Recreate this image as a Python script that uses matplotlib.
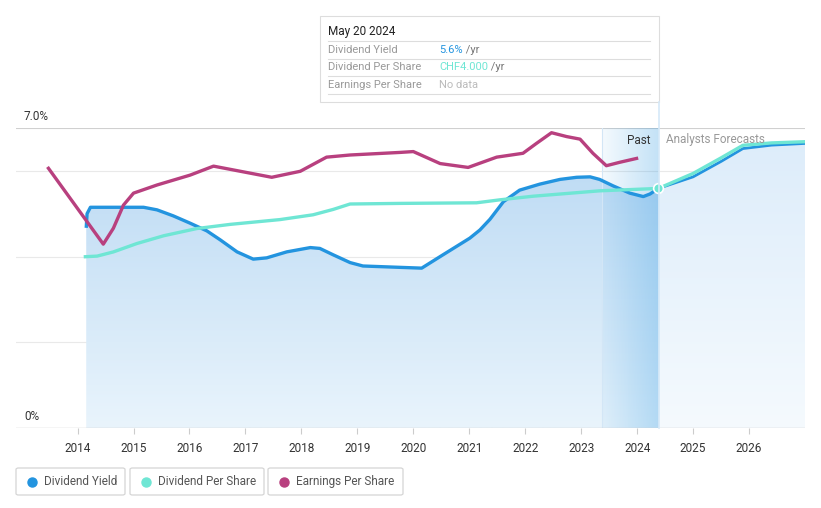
import matplotlib.pyplot as plt
import numpy as np
from matplotlib.patches import Rectangle, FancyBboxPatch, Polygon

plt.rcParams['font.family'] = ['Roboto', 'DejaVu Sans']

# dividend yield (%)
dy_x = [2014.155, 2014.17, 2014.23, 2015.18, 2015.42, 2015.71, 2016.01, 2016.31, 2016.55,
        2016.85, 2017.14, 2017.38, 2017.74, 2018.16, 2018.33, 2018.57, 2018.87, 2019.10,
        2020.15, 2020.48, 2021.01, 2021.19, 2021.37, 2021.61, 2021.90, 2022.26, 2022.62,
        2022.92, 2023.16, 2023.33, 2023.57, 2023.87, 2024.11, 2024.23, 2024.38]
dy_y = [4.67, 5.00, 5.15, 5.15, 5.09, 4.95, 4.78, 4.60, 4.39,
        4.11, 3.94, 3.97, 4.11, 4.21, 4.19, 4.04, 3.86, 3.78,
        3.73, 4.00, 4.43, 4.62, 4.87, 5.28, 5.55, 5.69, 5.80,
        5.85, 5.86, 5.80, 5.65, 5.48, 5.40, 5.46, 5.59]
dy_fx = [2024.38, 2025.0, 2025.50, 2025.89, 2026.40, 2027.0]
dy_fy = [5.59, 5.86, 6.22, 6.52, 6.60, 6.64]

# dividend per share (CHF)
dps_x = [2014.14, 2014.35, 2014.64, 2015.06, 2015.54, 2016.13, 2016.73, 2017.62, 2018.21,
         2018.57, 2018.87, 2019.76, 2021.13, 2021.55, 2022.14, 2023.33, 2024.38]
dps_y = [2.86, 2.87, 2.94, 3.08, 3.21, 3.33, 3.40, 3.48, 3.56,
         3.65, 3.74, 3.75, 3.76, 3.81, 3.87, 3.96, 4.00]
dps_fx = [2024.38, 2025.0, 2025.50, 2025.89, 2026.40, 2027.0]
dps_fy = [4.00, 4.25, 4.51, 4.72, 4.76, 4.78]

# earnings per share (drawn on the yield scale)
eps_x = [2013.48, 2014.46, 2014.64, 2014.82, 2015.0, 2015.42, 2016.01, 2016.43, 2016.91,
         2017.47, 2017.98, 2018.45, 2018.87, 2019.76, 2020.0, 2020.48, 2020.98, 2021.49,
         2021.96, 2022.20, 2022.47, 2022.74, 2022.98, 2023.21, 2023.45, 2023.69, 2023.99]
eps_y = [6.06, 4.29, 4.66, 5.20, 5.48, 5.67, 5.90, 6.11, 5.99,
         5.85, 5.99, 6.32, 6.37, 6.43, 6.45, 6.17, 6.08, 6.32,
         6.41, 6.64, 6.89, 6.80, 6.74, 6.41, 6.12, 6.20, 6.29]

years = list(range(2014, 2027))
now = 2024.38
band_start = 2023.375

c_dy = '#2394df'
c_dps = '#6fe6d4'
c_eps = '#b8407f'

fig = plt.figure(figsize=(8.21, 5.08), dpi=100)
W, H = 821, 508
ax = fig.add_axes([16 / W, 1 - 428 / H, 789 / W, 300 / H])
ax.set_xlim(2012.9, 2027.0)
ax.set_ylim(0, 7)
for s in ax.spines.values():
    s.set_visible(False)
ax.set_yticks([])


def grad_image(ax, x0, x1, top, bot, clip, alpha_lr=None):
    n = 256
    t = np.linspace(0, 1, n)
    if alpha_lr is None:
        img = np.zeros((n, 1, 4))
        for i in range(3):
            img[:, 0, i] = (top[i] + (bot[i] - top[i]) * t) / 255
        img[:, 0, 3] = 1
    else:
        img = np.zeros((1, n, 4))
        for i in range(3):
            img[0, :, i] = top[i] / 255
        img[0, :, 3] = alpha_lr[0] + (alpha_lr[1] - alpha_lr[0]) * t
    im = ax.imshow(img, extent=[x0, x1, 0, 7], aspect='auto', origin='upper', zorder=1,
                   interpolation='bilinear')
    if clip is not None:
        im.set_clip_path(clip)
    return im


# fill under the yield line, past and forecast
px, py = np.array(dy_x), np.array(dy_y)
poly_past = Polygon(np.column_stack([np.r_[px, px[-1], px[0]], np.r_[py, 0, 0]]),
                    closed=True, facecolor='none', edgecolor='none', transform=ax.transData)
ax.add_patch(poly_past)
grad_image(ax, px[0], px[-1], (184, 216, 243), (233, 244, 252), poly_past)

fx, fy = np.array(dy_fx), np.array(dy_fy)
poly_fc = Polygon(np.column_stack([np.r_[fx, fx[-1], fx[0]], np.r_[fy, 0, 0]]),
                  closed=True, facecolor='none', edgecolor='none', transform=ax.transData)
ax.add_patch(poly_fc)
grad_image(ax, fx[0], fx[-1], (220, 236, 250), (245, 250, 254), poly_fc)

# highlighted band before "now"
grad_image(ax, band_start, now, (40, 150, 225), None, None, alpha_lr=(0.05, 0.28))
ax.axvline(band_start, color='#d3e6f6', lw=0.8, zorder=1.5)

# grid
for g in [2, 4, 6]:
    ax.axhline(g, color='#e9e9e9', lw=0.8, zorder=0.5)
ax.axhline(7, color='#d0d0d0', lw=0.8, zorder=0.5)
ax.axhline(0, color='#cccccc', lw=1.0, zorder=3)

# lines
ax.plot(dy_x, dy_y, color=c_dy, lw=2.4, zorder=4, solid_joinstyle='round', solid_capstyle='butt')
ax.plot(dy_fx, dy_fy, color=c_dy, lw=2.0, zorder=4, solid_joinstyle='round')
ax.plot(eps_x, eps_y, color=c_eps, lw=2.4, zorder=5, solid_joinstyle='round')

ax2 = ax.twinx()
ax2.set_ylim(0, 7 * 4.0 / 5.59)
ax2.set_axis_off()
ax2.plot(dps_x, dps_y, color=c_dps, lw=2.4, zorder=4, solid_joinstyle='round')
ax2.plot(dps_fx, dps_fy, color=c_dps, lw=2.4, zorder=4, solid_joinstyle='round')
ax2.plot([now], [4.0], 'o', ms=7, color=c_dps, mec='white', mew=1.2, zorder=6)

# x ticks
ax.set_xticks(years)
ax.set_xticklabels([str(y) for y in years], fontsize=8.5, color='#333333')
ax.tick_params(axis='x', length=4, color='#cccccc', pad=6)

# y labels
fig.text(24 / W, 1 - 116 / H, '7.0%', fontsize=8.5, color='#333333', va='center')
fig.text(24 / W, 1 - 416 / H, '0%', fontsize=8.5, color='#333333', va='center')

# past / forecast labels
fig.text(650 / W, 1 - 140 / H, 'Past', fontsize=8.5, color='#333333', ha='right', va='center')
fig.text(666 / W, 1 - 140 / H, 'Analysts Forecasts', fontsize=8.5, color='#999999',
         ha='left', va='center')

# vertical "now" line
fig.add_artist(plt.Line2D([659 / W, 659 / W], [1 - 102 / H, 1 - 428 / H], color='#d6e9f8',
                          lw=1.2, zorder=2))

# tooltip
fig.add_artist(Rectangle((320 / W, 1 - 102 / H), 339 / W, 86 / H, facecolor='white',
                         edgecolor='#dddddd', lw=0.8))
fig.text(328 / W, 1 - 32 / H, 'May 20 2024', fontsize=8.5, color='#222222', va='center')
rows = [('Dividend Yield', '5.6%', c_dy, ' /yr'),
        ('Dividend Per Share', 'CHF4.000', c_dps, ' /yr'),
        ('Earnings Per Share', 'No data', '#bbbbbb', '')]
for i, (lab, val, col, suf) in enumerate(rows):
    yy = 1 - (50 + i * 17.5) / H
    fig.add_artist(plt.Line2D([328 / W, 650 / W], [yy + 8.7 / H, yy + 8.7 / H],
                              color='#dddddd', lw=0.8))
    fig.text(328 / W, yy, lab, fontsize=8, color='#999999', va='center')
    t = fig.text(439 / W, yy, val, fontsize=8, color=col, va='center')
    if suf:
        fig.canvas.draw()
        bb = t.get_window_extent()
        fig.text(bb.x1 / W, yy, suf, fontsize=8, color='#777777', va='center')
fig.add_artist(plt.Line2D([328 / W, 650 / W], [1 - 93.5 / H, 1 - 93.5 / H],
                          color='#dddddd', lw=0.8))

# legend buttons
legend = [('Dividend Yield', c_dy, 16, 109), ('Dividend Per Share', c_dps, 130, 134),
          ('Earnings Per Share', c_eps, 268, 135)]
for lab, col, x0, w in legend:
    fig.add_artist(FancyBboxPatch((x0 / W, 1 - 495 / H), w / W, 27 / H,
                                  boxstyle='round,pad=0,rounding_size=0.003',
                                  facecolor='white', edgecolor='#d5d5d5', lw=0.9))
    fig.add_artist(plt.Line2D([(x0 + 16) / W], [1 - 481.5 / H], marker='o', ms=6.5,
                              color=col, lw=0))
    fig.text((x0 + 28) / W, 1 - 481.5 / H, lab, fontsize=8.5, color='#555555', va='center')

fig.savefig('out.png', dpi=100)
